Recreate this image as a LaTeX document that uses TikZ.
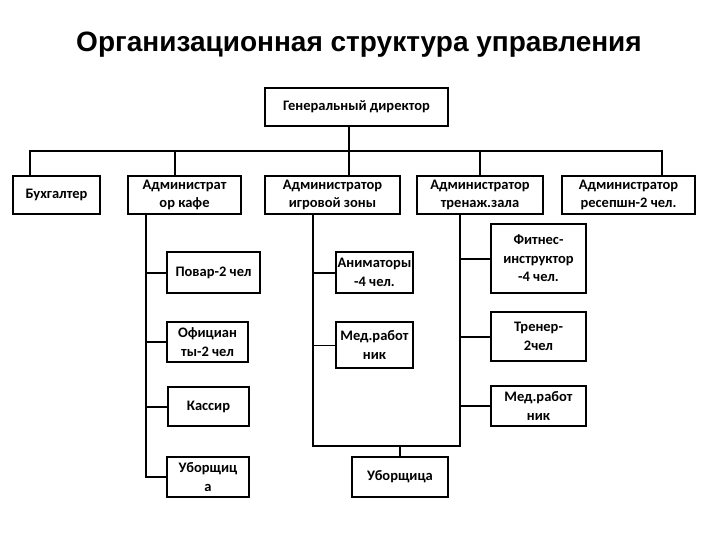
\documentclass[tikz,border=0pt]{standalone}
\usepackage{fontspec}
\setmainfont{Carlito}
\newfontfamily\titlefont{Liberation Sans}
\newcommand\mkbox[6]{\node[box,minimum width={#4-#2},minimum height={#5-#3}] (#1) at ({(#2+#4)/2},{(#3+#5)/2}) {#6};}
\begin{document}
\begin{tikzpicture}[x=1pt,y=-1pt,
  box/.style={draw,line width=2pt,align=center,inner sep=0.5pt,font=\bfseries\fontsize{14.5}{18.5}\selectfont},
  conn/.style={line width=2pt},
  thinconn/.style={line width=0.7pt}]
\useasboundingbox (0,0) rectangle (720,540);
\node[font=\titlefont\bfseries\fontsize{28}{32}\selectfont] (title) at (359,45) {Организационная структура управления};
% top
\mkbox{gd}{265}{88}{448}{126}{Генеральный директор}
\mkbox{buh}{13}{176}{100}{214}{Бухгалтер}
\mkbox{akafe}{128}{176}{241}{214}{Администрат\\ор кафе}
\mkbox{aigr}{265}{176}{400}{214}{Администратор\\игровой зоны}
\mkbox{atren}{417}{176}{543}{214}{Администратор\\тренаж.зала}
\mkbox{arec}{562}{176}{695}{214}{Администратор\\ресепшн-2 чел.}
% left column
\mkbox{povar}{167}{252}{260}{293}{Повар-2 чел}
\mkbox{ofic}{167}{322}{248}{362}{Официан\\ты-2 чел}
\mkbox{kass}{168}{387}{249}{426}{Кассир}
\mkbox{ubor1}{167}{457}{249}{497}{Уборщиц\\а}
% middle column
\mkbox{anim}{336}{252}{413}{293}{Аниматоры\\-4 чел.}
\mkbox{med1}{336}{322}{413}{368}{Мед.работ\\ник}
\mkbox{ubor2}{352}{457}{448}{497}{Уборщица}
% right column
\mkbox{fit}{491}{224}{586}{293}{Фитнес-\\инструктор\\-4 чел.}
\mkbox{tren}{491}{312}{586}{361}{Тренер-\\2чел}
\mkbox{med2}{491}{386}{586}{426}{Мед.работ\\ник}
% bus
\coordinate (busL) at (30,151);
\coordinate (busR) at (662,151);
\coordinate (dgd) at (349,151);
\coordinate (dkafe) at (175,151);
\coordinate (dtren) at (480,151);
\draw[conn] (dgd |- gd.south) -- (dgd |- aigr.north);
\draw[conn] (busL |- buh.north) -- (busL) -- (busR) -- (busR |- arec.north);
\draw[conn] (dkafe) -- (dkafe |- akafe.north);
\draw[conn] (dtren) -- (dtren |- atren.north);
% left spine
\coordinate (ls) at (146,477);
\draw[conn] (ls |- akafe.south) -- (ls) -- (ubor1.west);
\draw[conn] (ls |- povar.west) -- (povar.west);
\draw[conn] (ls |- ofic.west) -- (ofic.west);
\draw[conn] (ls |- kass.west) -- (kass.west);
% middle and right frame
\coordinate (mb) at (313,446);
\coordinate (rb) at (460,446);
\coordinate (ub) at (400,446);
\draw[conn] (mb |- aigr.south) -- (mb) -- (rb) -- (rb |- atren.south);
\draw[conn] (ub) -- (ub |- ubor2.north);
\draw[conn] (mb |- anim.west) -- (anim.west);
\draw[thinconn] (mb |- med1.west) -- (med1.west);
\draw[conn] (rb |- fit.west) -- (fit.west);
\draw[conn] (rb |- tren.west) -- (tren.west);
\draw[conn] (rb |- med2.west) -- (med2.west);
\end{tikzpicture}
\end{document}
